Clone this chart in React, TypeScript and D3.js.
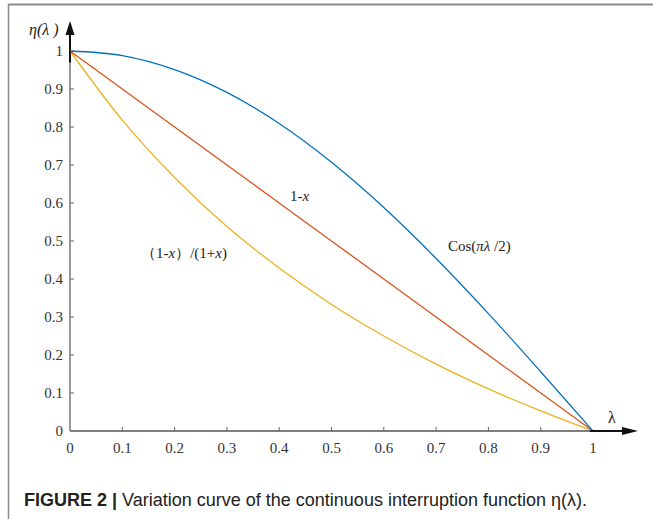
import { useEffect, useRef } from 'react';
import * as d3 from 'd3';

// values
const lambdaValues = [0, 0.1, 0.2, 0.3, 0.4, 0.5, 0.6, 0.7, 0.8, 0.9, 1];
const cosValues = [1, 0.988, 0.951, 0.891, 0.809, 0.707, 0.588, 0.454, 0.309, 0.156, 0];
const linearValues = [1, 0.9, 0.8, 0.7, 0.6, 0.5, 0.4, 0.3, 0.2, 0.1, 0];
const ratioValues = [1, 0.818, 0.667, 0.538, 0.429, 0.333, 0.25, 0.176, 0.111, 0.053, 0];
const xTicks = [0, 0.1, 0.2, 0.3, 0.4, 0.5, 0.6, 0.7, 0.8, 0.9, 1];
const yTicks = [0, 0.1, 0.2, 0.3, 0.4, 0.5, 0.6, 0.7, 0.8, 0.9, 1];

const COLORS = { cos: '#0072BD', lin: '#D95319', ratio: '#EDB120' };
const SERIF = '"Liberation Serif", "Times New Roman", serif';

export default function App() {
  const svgRef = useRef<SVGSVGElement>(null);

  useEffect(() => {
    if (!svgRef.current) return;
    const width = 653;
    const height = 519;
    const svg = d3.select(svgRef.current);
    svg.selectAll('*').remove();
    svg.attr('width', width).attr('height', height);

    svg.append('rect').attr('width', width).attr('height', height).attr('fill', '#fff');

    // frame (top + left only)
    svg.append('line').attr('x1', 8).attr('x2', width).attr('y1', 4.5).attr('y2', 4.5)
      .attr('stroke', '#8a8a8a').attr('stroke-width', 2);
    svg.append('line').attr('x1', 8.5).attr('x2', 8.5).attr('y1', 4).attr('y2', height)
      .attr('stroke', '#8a8a8a').attr('stroke-width', 1.5);

    const x = d3.scaleLinear().domain([0, 1]).range([70, 593]);
    const y = d3.scaleLinear().domain([0, 1]).range([431, 51]);

    const g = svg.append('g');

    // curves
    const line = d3.line<number>()
      .x((d, i) => x(lambdaValues[i]))
      .y(d => y(d))
      .curve(d3.curveMonotoneX);

    [
      { values: ratioValues, color: COLORS.ratio },
      { values: linearValues, color: COLORS.lin },
      { values: cosValues, color: COLORS.cos },
    ].forEach(s => {
      g.append('path')
        .datum(s.values)
        .attr('fill', 'none')
        .attr('stroke', s.color)
        .attr('stroke-width', 1.3)
        .attr('d', line);
    });

    // axes lines
    g.append('line').attr('x1', x(0)).attr('x2', x(0)).attr('y1', y(0)).attr('y2', y(1))
      .attr('stroke', '#777').attr('stroke-width', 1.5);
    g.append('line').attr('x1', x(0)).attr('x2', x(1)).attr('y1', y(0)).attr('y2', y(0))
      .attr('stroke', '#555').attr('stroke-width', 1.5);

    // arrows
    g.append('line').attr('x1', x(0)).attr('x2', x(0)).attr('y1', y(0.97)).attr('y2', 30)
      .attr('stroke', '#111').attr('stroke-width', 2);
    g.append('path')
      .attr('d', `M${x(0) - 4.5},${35} L${x(0)},${21} L${x(0) + 4.5},${35} Z`)
      .attr('fill', '#111');
    g.append('line').attr('x1', x(1) - 3).attr('x2', 625).attr('y1', y(0)).attr('y2', y(0))
      .attr('stroke', '#111').attr('stroke-width', 2);
    g.append('path')
      .attr('d', `M622,${y(0) - 4} L638,${y(0)} L622,${y(0) + 4} Z`)
      .attr('fill', '#111');

    // ticks
    xTicks.forEach(t => {
      if (t > 0 && t < 1) {
        g.append('line').attr('x1', x(t)).attr('x2', x(t)).attr('y1', y(0)).attr('y2', y(0) - 4)
          .attr('stroke', '#666').attr('stroke-width', 1);
      }
      g.append('text')
        .attr('x', x(t)).attr('y', 453)
        .attr('text-anchor', 'middle')
        .attr('font-family', SERIF).attr('font-size', 15).attr('fill', '#333')
        .text(String(t));
    });
    yTicks.forEach(t => {
      if (t > 0) {
        g.append('line').attr('x1', x(0)).attr('x2', x(0) + 4).attr('y1', y(t)).attr('y2', y(t))
          .attr('stroke', '#666').attr('stroke-width', 1);
      }
      g.append('text')
        .attr('x', 63).attr('y', y(t) + 5)
        .attr('text-anchor', 'end')
        .attr('font-family', SERIF).attr('font-size', 15).attr('fill', '#333')
        .text(String(t));
    });

    // axis labels
    g.append('text').attr('x', 29).attr('y', 35)
      .attr('font-family', SERIF).attr('font-size', 16).attr('font-style', 'italic').attr('fill', '#222')
      .text('η(λ )');
    g.append('text').attr('x', 608).attr('y', 423)
      .attr('font-family', SERIF).attr('font-size', 16).attr('fill', '#222')
      .text('λ');

    // curve labels
    const l1 = g.append('text').attr('x', 290).attr('y', 201)
      .attr('font-family', SERIF).attr('font-size', 15).attr('fill', '#222');
    l1.append('tspan').text('1-');
    l1.append('tspan').attr('font-style', 'italic').text('x');

    const l2 = g.append('text').attr('x', 448).attr('y', 251)
      .attr('font-family', SERIF).attr('font-size', 15).attr('fill', '#222');
    l2.append('tspan').text('Cos(');
    l2.append('tspan').attr('font-style', 'italic').text('πλ');
    l2.append('tspan').text(' /2)');

    const l3 = g.append('text').attr('x', 141).attr('y', 258)
      .attr('font-family', SERIF).attr('font-size', 15).attr('fill', '#222');
    l3.append('tspan').text('（1-');
    l3.append('tspan').attr('font-style', 'italic').text('x');
    l3.append('tspan').text('）/(1+');
    l3.append('tspan').attr('font-style', 'italic').text('x');
    l3.append('tspan').text(')');

    // caption
    const cap = svg.append('text').attr('x', 24).attr('y', 506)
      .attr('font-family', '"Liberation Sans", Arial, sans-serif').attr('font-size', 18).attr('fill', '#222');
    cap.append('tspan').attr('font-weight', 'bold').text('FIGURE 2 | ');
    cap.append('tspan').text('Variation curve of the continuous interruption function η(λ).');
  }, []);

  return (
    <div style={{ position: 'absolute', left: 0, top: 0 }}>
      <svg ref={svgRef} style={{ display: 'block' }}></svg>
    </div>
  );
}
